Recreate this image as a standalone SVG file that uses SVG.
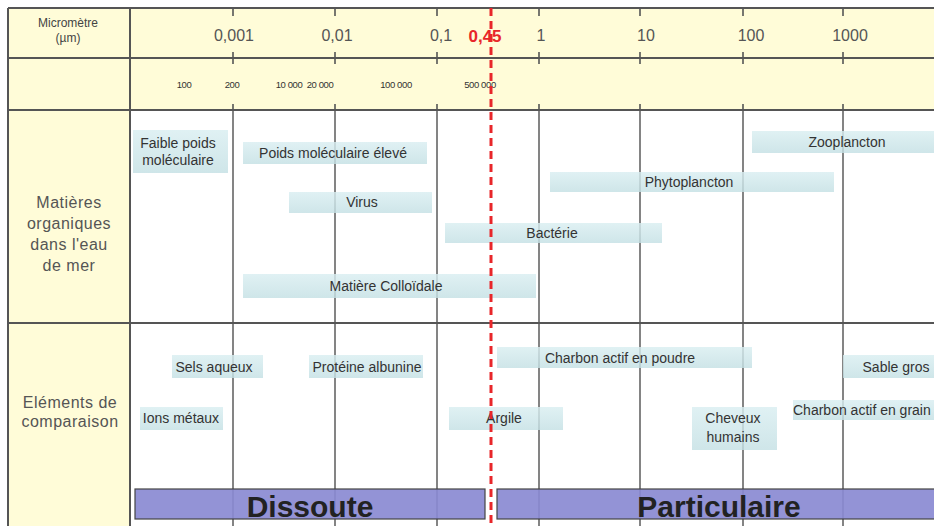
<svg xmlns="http://www.w3.org/2000/svg" width="934" height="526" viewBox="0 0 934 526">
<defs>
<linearGradient id="barg" x1="0" y1="0" x2="0" y2="1">
<stop offset="0" stop-color="#D9EEF1"/>
<stop offset="1" stop-color="#C4E0E4"/>
</linearGradient>
<style>
.yel{fill:#FFFCD8;}
.frame{stroke:#555;stroke-width:2;fill:none;}
.grid{stroke:#666;stroke-width:1.6;fill:none;}
.tick{stroke:#555;stroke-width:1.6;}
.bar{fill:url(#barg);fill-opacity:0.82;}
.bt{font-family:"Liberation Sans",Arial,sans-serif;font-size:14px;fill:#333;text-anchor:middle;}
.hd{font-family:"Liberation Sans",Arial,sans-serif;font-size:16px;fill:#555;text-anchor:middle;}
.sm{font-family:"Liberation Sans",Arial,sans-serif;font-size:9.5px;fill:#333;text-anchor:middle;letter-spacing:-0.4px;}
.rl{font-family:"Liberation Sans",Arial,sans-serif;font-size:16px;fill:#555;text-anchor:middle;letter-spacing:0.5px;}
.mu{font-family:"Liberation Sans",Arial,sans-serif;font-size:12px;fill:#444;text-anchor:middle;}
.pur{fill:#8A8AD2;fill-opacity:0.92;stroke:#444;stroke-width:1.2;}
.big{font-family:"Liberation Sans",Arial,sans-serif;font-size:30px;font-weight:bold;fill:#222;text-anchor:middle;}
.red{stroke:#E8262A;stroke-width:3;stroke-dasharray:8 5;fill:none;}
</style>
</defs>
<rect x="0" y="0" width="934" height="526" fill="#fff"/>
<rect class="yel" x="8" y="8" width="926" height="102"/>
<rect class="yel" x="8" y="110" width="122" height="416"/>
<g id="grid">
<path class="grid" d="M233 110V526M335 110V526M437 110V526M539 110V526M640 110V526M743 110V526M843 110V526"/>
<path class="tick" d="M233 8V16M335 8V16M437 8V16M539 8V16M640 8V16M743 8V16M843 8V16M233 52V64M335 52V64M437 52V64M539 52V64M640 52V64M743 52V64M843 52V64M233 104V110M335 104V110M437 104V110M539 104V110M640 104V110M743 104V110M843 104V110"/>
<path class="frame" d="M8 8H934M8 8V526M130 8V526M8 58H934M8 110H934M8 323H934"/>
</g>
<g id="header">
<text class="mu" x="68" y="27">Micromètre</text>
<text class="mu" x="68" y="42">(µm)</text>
<text class="hd" x="234" y="41">0,001</text>
<text class="hd" x="337" y="41">0,01</text>
<text class="hd" x="441" y="41">0,1</text>
<text class="hd" x="485" y="42" style="font-size:17px;font-weight:bold;fill:#E8262A;">0,45</text>
<text class="hd" x="541" y="41">1</text>
<text class="hd" x="646" y="41">10</text>
<text class="hd" x="751" y="41">100</text>
<text class="hd" x="850" y="41">1000</text>
<text class="sm" x="184" y="88">100</text>
<text class="sm" x="232" y="88">200</text>
<text class="sm" x="289" y="88">10 000</text>
<text class="sm" x="320" y="88">20 000</text>
<text class="sm" x="396" y="88">100 000</text>
<text class="sm" x="480" y="88">500 000</text>
</g>
<g id="row-matieres">
<text class="rl" x="69" y="208">Matières</text>
<text class="rl" x="69" y="229">organiques</text>
<text class="rl" x="69" y="250">dans l'eau</text>
<text class="rl" x="69" y="271">de mer</text>
</g>
<g id="row-elements">
<text class="rl" x="70" y="408">Eléments de</text>
<text class="rl" x="70" y="427">comparaison</text>
</g>
<g id="faible-poids"><rect class="bar" x="133" y="130" width="95" height="43"/><text class="bt" x="178" y="148">Faible poids</text><text class="bt" x="178" y="165">moléculaire</text></g>
<g id="poids-eleve"><rect class="bar" x="243" y="142" width="184" height="22"/><text class="bt" x="333" y="158">Poids moléculaire élevé</text></g>
<g id="virus"><rect class="bar" x="289" y="192" width="143" height="21"/><text class="bt" x="362" y="207">Virus</text></g>
<g id="colloidale"><rect class="bar" x="243" y="274" width="293" height="24"/><text class="bt" x="386" y="291">Matière Colloïdale</text></g>
<g id="bacterie"><rect class="bar" x="445" y="223" width="217" height="20"/><text class="bt" x="552" y="238">Bactérie</text></g>
<g id="phytoplancton"><rect class="bar" x="550" y="172" width="284" height="20"/><text class="bt" x="689" y="187">Phytoplancton</text></g>
<g id="zooplancton"><rect class="bar" x="752" y="131" width="182" height="22"/><text class="bt" x="847" y="147">Zooplancton</text></g>
<g id="sels"><rect class="bar" x="172" y="355" width="91" height="23"/><text class="bt" x="214" y="372">Sels aqueux</text></g>
<g id="proteine"><rect class="bar" x="309" y="355" width="114" height="23"/><text class="bt" x="367" y="372">Protéine albunine</text></g>
<g id="ions"><rect class="bar" x="140" y="407" width="83" height="23"/><text class="bt" x="181" y="423">Ions métaux</text></g>
<g id="charbon-poudre"><rect class="bar" x="497" y="347" width="255" height="21"/><text class="bt" x="620" y="363">Charbon actif en poudre</text></g>
<g id="sable"><rect class="bar" x="843" y="355" width="91" height="23"/><text class="bt" x="896" y="372">Sable gros</text></g>
<g id="argile"><rect class="bar" x="449" y="407" width="114" height="23"/><text class="bt" x="504" y="423">Argile</text></g>
<g id="cheveux"><rect class="bar" x="692" y="407" width="85" height="43"/><text class="bt" x="733" y="423">Cheveux</text><text class="bt" x="733" y="442">humains</text></g>
<g id="charbon-grain"><rect class="bar" x="793" y="400" width="141" height="20"/><text class="bt" x="793" y="415" style="text-anchor:start;">Charbon actif en grain</text></g>
<g id="dissoute"><rect class="pur" x="135" y="489" width="350" height="30"/><text class="big" x="310" y="517">Dissoute</text></g>
<g id="particulaire"><rect class="pur" x="497" y="489" width="440" height="30"/><text class="big" x="719" y="517">Particulaire</text></g>
<g id="connectors">
<path class="red" d="M491 8V526"/>
</g>
</svg>
